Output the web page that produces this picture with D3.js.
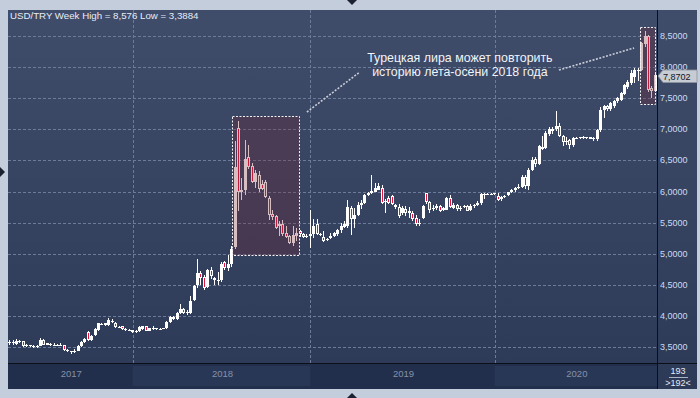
<!DOCTYPE html>
<html><head><meta charset="utf-8">
<script src="https://cdn.jsdelivr.net/npm/d3@7"></script>
<style>html,body{margin:0;padding:0;background:#c3cddb;overflow:hidden}svg{display:block}</style>
</head><body>
<svg id="c" width="700" height="398"></svg>
<script>
// ---- data (weekly USD/TRY candles) ----
const openV = [3.56,3.58,3.55,3.59,3.59,3.52,3.53,3.52,3.50,3.52,3.62,3.54,3.55,3.53,3.54,3.53,3.53,3.45,3.43,3.42,
3.44,3.52,3.58,3.74,3.62,3.69,3.77,3.86,3.88,3.85,3.90,3.89,3.82,3.83,3.79,3.78,3.77,3.74,3.75,3.79,
3.83,3.76,3.79,3.79,3.79,3.80,3.80,3.90,3.98,3.95,4.05,4.11,4.07,4.05,4.26,4.49,4.69,4.63,4.47,4.74,
4.61,4.57,4.57,4.86,4.77,4.84,5.11,7.02,6.00,6.03,6.55,6.41,6.16,6.27,6.12,6.16,5.90,5.64,5.60,5.44,
5.48,5.33,5.29,5.18,5.29,5.36,5.31,5.28,5.28,5.31,5.47,5.31,5.27,5.22,5.25,5.29,5.31,5.38,5.43,5.44,
5.74,5.55,5.62,5.78,5.82,5.94,5.98,6.00,6.03,6.06,5.84,5.90,5.93,5.79,5.75,5.65,5.72,5.66,5.66,5.58,
5.48,5.57,5.97,5.83,5.72,5.73,5.76,5.70,5.71,5.90,5.74,5.78,5.72,5.75,5.76,5.70,5.76,5.78,5.81,5.95,
5.96,5.95,5.96,5.93,5.88,5.91,5.94,5.99,6.02,6.06,6.07,6.24,6.09,6.35,6.52,6.45,6.72,6.70,6.92,6.98,
7.00,7.06,6.89,6.80,6.83,6.74,6.85,6.86,6.87,6.86,6.87,6.85,6.84,6.99,7.31,7.37,7.33,7.37,7.45,7.47,
7.57,7.68,7.74,7.84,7.93,7.95,8.37,8.50,7.67,7.62];
const highV = [3.62,3.61,3.63,3.61,3.60,3.55,3.54,3.54,3.54,3.64,3.63,3.57,3.56,3.56,3.55,3.56,3.54,3.46,3.44,3.46,
3.53,3.60,3.64,3.76,3.70,3.80,3.89,3.89,3.89,3.97,3.95,3.90,3.84,3.84,3.81,3.79,3.78,3.77,3.83,3.84,
3.84,3.81,3.83,3.81,3.80,3.81,3.91,4.00,4.00,4.07,4.19,4.13,4.09,4.32,4.50,4.91,4.72,4.66,4.76,4.78,
4.63,4.71,4.87,4.88,4.98,5.12,6.81,7.13,6.22,6.83,6.74,6.46,6.35,6.33,6.18,6.18,5.92,5.70,5.62,5.52,
5.54,5.44,5.30,5.44,5.41,5.38,5.33,5.31,5.70,5.55,5.55,5.33,5.37,5.26,5.34,5.35,5.40,5.50,5.52,5.86,
5.76,5.74,5.83,5.86,5.96,6.00,6.26,6.14,6.14,6.10,5.88,5.92,5.95,5.80,5.80,5.76,5.76,5.75,5.68,5.63,
5.55,5.78,5.98,5.84,5.78,5.80,5.79,5.75,5.91,5.95,5.82,5.80,5.76,5.79,5.78,5.80,5.80,5.84,5.97,5.98,
5.97,5.97,5.98,5.98,5.92,5.95,6.00,6.04,6.08,6.12,6.26,6.27,6.37,6.56,6.56,6.75,6.90,6.97,7.03,7.03,
7.29,7.10,6.91,6.87,6.85,6.88,6.88,6.88,6.89,6.88,6.88,6.87,7.00,7.36,7.39,7.39,7.44,7.47,7.52,7.60,
7.73,7.79,7.95,7.98,7.99,8.40,8.576,8.52,7.70,7.89];
const lowV = [3.53,3.54,3.54,3.56,3.50,3.50,3.50,3.48,3.48,3.51,3.53,3.53,3.52,3.52,3.52,3.52,3.44,3.42,3.3884,3.40,
3.43,3.50,3.56,3.60,3.60,3.67,3.76,3.85,3.84,3.84,3.88,3.81,3.80,3.78,3.76,3.77,3.73,3.73,3.74,3.78,
3.75,3.75,3.78,3.78,3.78,3.79,3.79,3.89,3.93,3.94,4.03,4.03,4.02,4.03,4.24,4.45,4.50,4.42,4.45,4.60,
4.49,4.49,4.55,4.74,4.72,4.78,5.08,5.68,5.87,5.95,6.36,6.13,6.05,6.00,6.02,5.89,5.54,5.54,5.40,5.29,
5.29,5.25,5.15,5.13,5.20,5.27,5.25,5.26,5.09,5.25,5.30,5.28,5.19,5.20,5.24,5.27,5.29,5.34,5.41,5.42,
5.30,5.42,5.60,5.72,5.80,5.93,5.96,5.99,6.02,5.80,5.66,5.80,5.78,5.72,5.58,5.62,5.60,5.57,5.52,5.45,
5.44,5.55,5.80,5.66,5.68,5.71,5.67,5.68,5.70,5.73,5.72,5.69,5.68,5.74,5.68,5.69,5.74,5.77,5.79,5.88,
5.95,5.94,5.94,5.85,5.85,5.89,5.92,5.97,6.00,6.04,6.05,6.04,6.03,6.33,6.40,6.43,6.66,6.68,6.90,6.92,
6.98,6.88,6.73,6.74,6.69,6.72,6.84,6.85,6.85,6.85,6.84,6.81,6.81,6.95,7.18,7.30,7.30,7.35,7.43,7.45,
7.55,7.65,7.72,7.74,7.77,7.93,8.32,7.60,7.50,7.60];
const closeV = [3.58,3.56,3.60,3.58,3.51,3.53,3.52,3.50,3.52,3.62,3.54,3.56,3.53,3.54,3.53,3.54,3.45,3.43,3.42,3.44,
3.52,3.58,3.63,3.62,3.68,3.79,3.88,3.87,3.85,3.93,3.92,3.82,3.81,3.79,3.78,3.77,3.74,3.76,3.82,3.83,
3.76,3.80,3.80,3.80,3.79,3.80,3.90,3.98,3.95,4.05,4.11,4.04,4.04,4.24,4.48,4.69,4.61,4.45,4.73,4.64,
4.57,4.58,4.84,4.77,4.84,5.07,6.39,6.00,6.03,6.52,6.39,6.16,6.29,6.04,6.04,5.91,5.63,5.59,5.41,5.47,
5.31,5.27,5.18,5.30,5.34,5.31,5.27,5.29,5.32,5.44,5.32,5.30,5.21,5.24,5.28,5.33,5.38,5.45,5.48,5.75,
5.55,5.63,5.78,5.82,5.94,5.98,6.01,6.05,6.09,5.82,5.85,5.82,5.80,5.75,5.61,5.73,5.65,5.69,5.55,5.47,
5.50,5.77,5.83,5.71,5.74,5.77,5.69,5.73,5.90,5.75,5.79,5.72,5.74,5.76,5.69,5.76,5.79,5.82,5.96,5.96,
5.96,5.96,5.97,5.87,5.91,5.93,5.99,6.02,6.05,6.07,6.24,6.09,6.35,6.51,6.45,6.73,6.69,6.94,7.00,7.01,
7.06,6.90,6.80,6.81,6.75,6.86,6.86,6.87,6.87,6.87,6.85,6.86,6.99,7.31,7.37,7.33,7.42,7.46,7.50,7.58,
7.71,7.76,7.90,7.95,7.96,8.38,8.50,7.63,7.62,7.8702];
const years = ["2017","2018","2019","2020"];
const yearStartIdx = [36, 88, 142];          // first candle of 2018, 2019, 2020
const yTicks = [3.5,4,4.5,5,5.5,6,6.5,7,7.5,8,8.5];
const titleText = "USD/TRY Week High = 8,576 Low = 3,3884";
const lastPrice = 7.8702;
const noteLines = ["Турецкая лира может повторить", "историю лета-осени 2018 года"];
const boxI0 = [65.0, 184.5], boxI1 = [84.7, 188.95], boxV0 = [4.979, 7.407], boxV1 = [7.209, 8.65];
const leaderFrom = [[87.0,7.278],[160.8,7.953]], leaderTo = [[102.5,7.921],[182.8,8.307]];
const noteAnchor = [131.8, 8.09];
const barCount = "193", barVisible = ">192<";

// ---- layout ----
const N = openV.length;
const L = 8, R = 657, T = 10, B = 363, AX = 389, RW = 697;
const svg = d3.select("#c");
const font = "'Liberation Sans', Arial, sans-serif";
const x = d3.scaleLinear().domain([-0.5, N - 0.5]).range([L, R]);
const y = d3.scaleLinear().domain([3.5, 8.5]).range([347, 36]);
const fmt = v => d3.format(".4f")(v).replace(".", ",");

const defs = svg.append("defs");
const g = defs.append("linearGradient").attr("id","bg").attr("x1",0).attr("y1",0).attr("x2",0).attr("y2",1);
g.append("stop").attr("offset","0%").attr("stop-color","#3f4c6a");
g.append("stop").attr("offset","100%").attr("stop-color","#2c3957");
defs.append("clipPath").attr("id","plot").append("rect").attr("x",L).attr("y",T).attr("width",R-L).attr("height",B-T);

svg.append("rect").attr("x",L).attr("y",T).attr("width",RW-L).attr("height",AX-T).attr("fill","url(#bg)");

// x-axis band
svg.append("rect").attr("x",L).attr("y",B).attr("width",R-L).attr("height",AX-B).attr("fill","#222f4c");
const bounds = [L, ...yearStartIdx.map(i => x(i)), R];
years.forEach((yr, k) => {
  if (k % 2 === 1) svg.append("rect").attr("x",bounds[k]).attr("y",B+3).attr("width",bounds[k+1]-bounds[k]).attr("height",AX-B-6).attr("fill","#293757");
  svg.append("text").attr("x",(bounds[k]+bounds[k+1])/2 + 1).attr("y",377).attr("text-anchor","middle")
    .attr("font-family",font).attr("font-size","9.5px").attr("fill","#8591a8").text(yr);
});

// grid
const grid = svg.append("g").attr("stroke","#6c7b99").attr("stroke-width",1).attr("stroke-dasharray","3,2");
yTicks.forEach(v => {
  const yy = Math.round(y(v)) + 0.5;
  grid.append("line").attr("x1",L).attr("x2",R).attr("y1",yy).attr("y2",yy);
});
yearStartIdx.forEach(i => {
  const xx = Math.round(x(i)) + 0.5;
  grid.append("line").attr("x1",xx).attr("x2",xx).attr("y1",T).attr("y2",B);
});

// candles
const cg = svg.append("g").attr("clip-path","url(#plot)").attr("shape-rendering","crispEdges");
d3.range(N).forEach(i => {
  const o = openV[i], h = highV[i], l = lowV[i], c = closeV[i];
  const wx = Math.floor(x(i));
  const yh = Math.round(y(h)), yl = Math.round(y(l));
  cg.append("rect").attr("x",wx).attr("y",yh).attr("width",1).attr("height",Math.max(1,yl-yh)).attr("fill","#ffffff");
  const top = Math.round(y(Math.max(o,c))), bot = Math.round(y(Math.min(o,c)));
  const bh = Math.max(1, bot - top);
  cg.append("rect").attr("x",wx-1).attr("y",top).attr("width",3).attr("height",bh).attr("fill","#ffffff");
  if (c < o && bh > 2) {
    cg.append("rect").attr("x",wx).attr("y",top+1).attr("width",1).attr("height",bh-2).attr("fill","#e3173e");
  }
});

// highlight boxes
boxI0.forEach((b, k) => {
  const x0 = x(boxI0[k]), x1 = x(boxI1[k]), y0 = y(boxV1[k]), y1 = y(boxV0[k]);
  svg.append("rect").attr("x",Math.round(x0)+0.5).attr("y",Math.round(y0)+0.5)
    .attr("width",Math.round(x1-x0)).attr("height",Math.round(y1-y0))
    .attr("fill","rgb(120,40,55)").attr("fill-opacity",0.3)
    .attr("stroke","#f2f2f2").attr("stroke-width",1).attr("stroke-dasharray","2,1.5");
});
// leader lines
leaderFrom.forEach((p, k) => {
  const q = leaderTo[k];
  svg.append("line").attr("x1",x(p[0])).attr("y1",y(p[1])).attr("x2",x(q[0])).attr("y2",y(q[1]))
    .attr("stroke","#c9cdd8").attr("stroke-width",1.6).attr("stroke-dasharray","2,1.5");
});
// note
const nt = svg.append("text").attr("font-family",font).attr("font-size","12.4px").attr("fill","#f2f4f8").attr("text-anchor","middle");
noteLines.forEach((s, k) => nt.append("tspan").attr("x",x(noteAnchor[0])).attr("y",y(noteAnchor[1]) + k*14.5).text(s));

// title
svg.append("text").attr("x",10).attr("y",19).attr("font-family",font).attr("font-size","9.7px").attr("fill","#e8edf6").text(titleText);

// frame lines
svg.append("line").attr("x1",R+0.5).attr("x2",R+0.5).attr("y1",T).attr("y2",AX).attr("stroke","#0b0f18").attr("stroke-width",1);
svg.append("line").attr("x1",L).attr("x2",RW).attr("y1",B+0.5).attr("y2",B+0.5).attr("stroke","#0b0f18").attr("stroke-width",1);

// y labels
yTicks.forEach(v => {
  svg.append("text").attr("x",660).attr("y",Math.round(y(v))+3.3).attr("font-family",font).attr("font-size","9px")
    .attr("fill","#cddcf2").text(fmt(v));
});
// price tag
const py = Math.round(y(lastPrice)) + 0.5;
svg.append("path").attr("d",`M${R+1},${py+0.5} L${R+6},${py-5.5} L${RW},${py-5.5} L${RW},${py+7} L${R+6},${py+7} Z`)
  .attr("fill","#c7cbd3").attr("stroke","#8c93a0").attr("stroke-width",0.8);
svg.append("text").attr("x",R+6).attr("y",py+4.8).attr("font-family",font).attr("font-size","9px").attr("fill","#10141c").text(fmt(lastPrice));

// bar counter
svg.append("text").attr("x",678).attr("y",374).attr("text-anchor","middle").attr("font-family",font).attr("font-size","9px").attr("fill","#e6ebf3").text(barCount);
svg.append("line").attr("x1",669).attr("x2",688).attr("y1",377.5).attr("y2",377.5).attr("stroke","#aab4c6").attr("stroke-width",1);
svg.append("text").attr("x",678).attr("y",386).attr("text-anchor","middle").attr("font-family",font).attr("font-size","9px").attr("fill","#e6ebf3").text(barVisible);

// frame triangles
svg.append("path").attr("d","M347,0 L357,0 L352,5 Z").attr("fill","#1b2130");
svg.append("path").attr("d","M347,398 L357,398 L352,393 Z").attr("fill","#1b2130");
svg.append("path").attr("d","M0,167 L0,177 L5,172 Z").attr("fill","#1b2130");
</script>
</body></html>
